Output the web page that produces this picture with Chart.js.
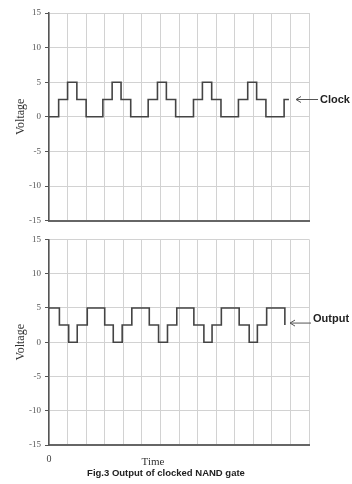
<!DOCTYPE html>
<html>
<head>
<meta charset="utf-8">
<script src="https://cdn.jsdelivr.net/npm/chart.js@4"></script>
<style>
  body { margin:0; background:#fff; }
  .box { position:absolute; left:0; width:352px; }
</style>
</head>
<body>
<div class="box" style="top:0;height:230px"><canvas id="clockChart" width="352" height="230"></canvas></div>
<div class="box" style="top:230px;height:254px"><canvas id="outChart" width="352" height="254"></canvas></div>
<script>
// switching times (time units) and the level the signal takes from that moment
const clockTimes = [0, 2.6, 5.0, 7.5, 10.0, 14.5, 17.0, 19.4, 22.0, 26.7, 29.2, 31.6, 34.1,
                    38.9, 41.3, 43.8, 46.3, 51.0, 53.5, 55.9, 58.4, 63.3, 64.6];
const clockLevels = [0, 2.5, 5, 2.5, 0, 2.5, 5, 2.5, 0, 2.5, 5, 2.5, 0,
                     2.5, 5, 2.5, 0, 2.5, 5, 2.5, 0, 2.5, 2.5];

const outTimes = [0, 2.8, 5.3, 7.6, 10.3, 15.0, 17.3, 19.7, 22.3, 27.0, 29.5, 31.9, 34.4,
                  39.0, 41.7, 43.9, 46.4, 51.2, 53.9, 56.1, 58.6, 63.5];
const outLevels = [5, 2.5, 0, 2.5, 5, 2.5, 0, 2.5, 5, 2.5, 0, 2.5, 5,
                   2.5, 0, 2.5, 5, 2.5, 0, 2.5, 5, 2.5];

const voltTicks = [-15, -10, -5, 0, 5, 10, 15];
const timeMax = 70;
const timeStep = 5;

function toPoints(ts, vs) {
  return ts.map((t, i) => ({ x: t, y: vs[i] }));
}

const serif = '"Liberation Serif", "DejaVu Serif", serif';
const sans = '"Liberation Sans", Arial, sans-serif';

// arrow + name on the right side of each plot, plus the texts under the lower plot
const sideLabel = {
  id: 'sideLabel',
  afterDraw(chart, args, opts) {
    const ctx = chart.ctx;
    const a = chart.chartArea;
    const y = chart.scales.y.getPixelForValue(opts.value);
    const ay = y + opts.arrowDy;
    const x1 = a.right + opts.head, x2 = a.right + opts.tail;
    ctx.save();
    ctx.strokeStyle = '#555';
    ctx.lineWidth = 1;
    ctx.beginPath();
    ctx.moveTo(x2, ay); ctx.lineTo(x1, ay);
    ctx.moveTo(x1 + 5, ay - 3); ctx.lineTo(x1, ay); ctx.lineTo(x1 + 5, ay + 3);
    ctx.stroke();
    ctx.fillStyle = '#222';
    ctx.font = 'bold 11px ' + sans;
    ctx.textBaseline = 'middle';
    ctx.fillText(opts.text, a.right + opts.textDx, y + opts.textDy);
    if (opts.under) {
      ctx.textAlign = 'center';
      ctx.fillStyle = '#333';
      ctx.font = '11px ' + serif;
      ctx.fillText('Time', 153, a.bottom + 17);
      ctx.fillStyle = '#222';
      ctx.font = 'bold 9.5px ' + sans;
      ctx.fillText('Fig.3 Output of clocked NAND gate', 166, a.bottom + 28);
    }
    ctx.restore();
  }
};

function makeChart(id, ts, vs, label, bottom) {
  const xAxis = {
    type: 'linear', min: 0, max: timeMax,
    ticks: { display: false, stepSize: timeStep },
    grid: { color: '#d2d2d2', drawTicks: false },
    border: { color: '#666', width: 2 },
    afterFit: s => { s.height = 0; }
  };
  if (bottom) {
    xAxis.ticks = {
      display: true, stepSize: timeStep, autoSkip: false, maxRotation: 0, padding: 8,
      color: '#444', font: { family: serif, size: 10 },
      callback: v => (v === 0 ? '0' : '')
    };
    xAxis.afterFit = s => { s.height = 22; };
  }
  return new Chart(document.getElementById(id), {
    type: 'line',
    data: {
      datasets: [{
        data: toPoints(ts, vs),
        stepped: true,
        borderColor: '#444',
        borderWidth: 1.6,
        pointRadius: 0,
        fill: false
      }]
    },
    options: {
      responsive: false,
      animation: false,
      layout: { padding: bottom ? { top: 6, right: 43, bottom: 17, left: 0 }
                                : { top: 13, right: 43, bottom: 9, left: 0 } },
      scales: {
        x: xAxis,
        y: {
          min: -15, max: 15,
          afterBuildTicks: s => { s.ticks = voltTicks.map(v => ({ value: v })); },
          ticks: { color: '#555', padding: 4, font: { family: serif, size: 9 } },
          grid: { color: '#d2d2d2', tickColor: '#555', tickLength: 4 },
          border: { color: '#555', width: 1.5 },
          title: { display: true, text: 'Voltage', color: '#333', padding: { top: 14, bottom: 0 },
                   font: { family: serif, size: 12 } },
          afterFit: s => { s.width = 49; }
        }
      },
      plugins: {
        legend: { display: false },
        tooltip: { enabled: false },
        sideLabel: label
      }
    },
    plugins: [sideLabel]
  });
}

makeChart('clockChart', clockTimes, clockLevels,
  { text: 'Clock', value: 2.5, head: -13, tail: 9, textDx: 11, arrowDy: 0, textDy: 0 }, false);
makeChart('outChart', outTimes, outLevels,
  { text: 'Output', value: 2.5, head: -19, tail: 2, textDx: 4, arrowDy: -2, textDy: -6, under: true }, true);
</script>
</body>
</html>
